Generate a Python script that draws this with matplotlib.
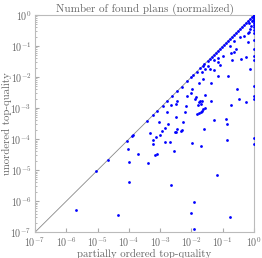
import numpy as np
import matplotlib
matplotlib.use("Agg")
import matplotlib.pyplot as plt

plt.rcParams["font.family"] = "serif"
plt.rcParams["font.serif"] = ["cmr10", "DejaVu Serif"]
plt.rcParams["mathtext.fontset"] = "cm"
plt.rcParams["axes.formatter.use_mathtext"] = True

title = "Number of found plans (normalized)"
xlabel = "partially ordered top-quality"
ylabel = "unordered top-quality"

# points on the diagonal (same value on both axes)
diag_vals = [9.1e-6, 2.1e-5, 8.4e-5, 1.3e-4, 1.4e-4,
             3.9e-4, 6.0e-4, 8.1e-4, 1.2e-3, 1.64e-3, 2.38e-3, 3.55e-3,
             4.9e-3, 7.4e-3, 1.0e-2, 1.16e-2, 1.48e-2, 1.89e-2, 2.3e-2,
             2.61e-2, 3.26e-2, 3.95e-2, 4.58e-2, 5.31e-2, 6.17e-2, 7.14e-2,
             8.28e-2, 9.6e-2, 0.111, 0.129, 0.15, 0.173, 0.201, 0.233, 0.27,
             0.313, 0.363, 0.421, 0.488, 0.566, 0.656, 0.76, 0.88, 0.977, 1.0]

# off-diagonal points
po_vals = [2.1e-6, 9.7e-5, 1.02e-4, 9.9e-5, 4.4e-5, 1.98e-4, 4.0e-4, 4.8e-4,
           5.7e-4, 6.0e-4, 7.3e-4, 6.8e-4, 8.1e-4, 9.8e-4, 1.13e-3, 1.38e-3,
           1.46e-3, 2.05e-3, 2.3e-3, 2.7e-3, 2.96e-3, 3.2e-3, 3.4e-3, 4.5e-3,
           4.9e-3, 1.04e-2, 9.96e-3, 1.18e-2, 1.18e-2, 2.03e-2, 2.5e-2, 6.5e-2,
           0.133, 0.174,
           0.627, 0.69, 0.488, 0.363, 0.233, 0.627, 0.166, 0.27, 0.233, 0.182,
           0.101, 0.068, 0.068, 0.053, 0.079, 0.0326, 0.0378, 0.0267, 0.0219,
           0.053, 0.192, 0.566, 0.383, 0.724, 0.15, 0.068, 0.023, 0.0416,
           0.018, 0.0104, 0.0095, 0.0267, 0.0127, 0.0074, 0.014, 0.0416,
           0.0189, 0.0034, 0.0067, 0.00228, 0.0061, 0.0017, 0.182, 0.284, 0.33,
           0.0267, 0.024, 0.0215, 0.0195, 0.0175, 0.0155,
           0.016, 0.018, 0.0195, 0.021,
           8.9e-4, 0.0055, 0.053, 0.129, 0.136, 0.00177, 0.0032, 0.0031, 0.54,
           0.8, 0.85, 0.75, 0.9, 0.7,
           1.0, 1.0, 1.0, 1.0, 1.0, 1.0, 1.0, 1.0, 1.0, 1.0, 1.0, 1.0, 1.0,
           1.0, 1.0, 1.0, 1.0, 1.0, 1.0, 1.0]
uo_vals = [5.1e-7, 4.8e-5, 1.77e-5, 4.2e-6, 3.7e-7, 3.4e-5, 1.64e-5, 1.57e-4,
           9.2e-5, 7.2e-5, 1.17e-4, 3.05e-5, 3.3e-5, 1.33e-4, 1.78e-4, 8.3e-5,
           2.27e-4, 8.3e-5, 3.2e-6, 4.1e-5, 1.66e-4, 1.66e-4, 2.07e-4, 1.78e-4,
           1.96e-4, 7.5e-5, 4.3e-7, 9.1e-7, 1.25e-7, 5.9e-5, 2.16e-4, 6.8e-6,
           9.2e-5, 3.2e-7,
           0.26, 0.286, 0.213, 0.194, 0.14, 0.13, 0.097, 0.08, 0.066, 0.0597,
           0.0465, 0.04, 0.03, 0.0365, 0.0247, 0.0223, 0.0175, 0.0175, 0.015,
           0.0166, 0.0365, 0.0445, 0.0384, 0.0184, 0.0112, 0.0107, 0.0084,
           0.0066, 0.0062, 0.0042, 0.0031, 0.0026, 0.0019, 0.00245, 0.0022,
           0.00166, 0.00166, 0.00175, 0.00117, 0.0013, 7.2e-4, 7.5e-4, 0.00124,
           0.0042, 0.002,
           1.01e-3, 9.0e-4, 8.2e-4, 7.5e-4, 6.8e-4, 6.4e-4,
           1.3e-3, 1.6e-3, 1.4e-3, 1.7e-3,
           3.46e-4, 3.6e-4, 4.0e-4, 4.4e-4, 3.1e-4, 3.0e-4, 5.1e-4, 1.4e-3,
           1.57e-3,
           0.45, 0.62, 0.35, 0.7, 0.55,
           0.95, 0.9, 0.85, 0.78, 0.7, 0.62, 0.55, 0.47, 0.4, 0.33, 0.27, 0.159,
           0.08, 0.046, 0.0365, 0.0051, 0.00245, 0.0019, 1.11e-4, 7.2e-5]

axis_min, axis_max = 1e-7, 1.0

fig = plt.figure(figsize=(2.62, 2.58), dpi=100)
ax = fig.add_axes([0.1336, 0.1, 0.836, 0.842])
gray = "#666666"
ax.plot([axis_min, axis_max], [axis_min, axis_max], color="#888888", lw=0.6, zorder=1)
ax.plot(diag_vals, diag_vals, "o", color="blue", ms=2.0, mew=0, zorder=3)
ax.plot(po_vals, uo_vals, "o", color="blue", ms=2.0, mew=0, zorder=3)
ax.set_xscale("log")
ax.set_yscale("log")
ax.set_xlim(axis_min, axis_max)
ax.set_ylim(axis_min, axis_max)
ax.set_xticks([10.0 ** k for k in range(-7, 1)])
ax.set_yticks([10.0 ** k for k in range(-7, 1)])
for s in ax.spines.values():
    s.set_color("#bbbbbb")
    s.set_linewidth(0.8)
ax.tick_params(which="both", direction="in", colors="#aaaaaa", labelcolor=gray,
               labelsize=7.2)
ax.tick_params(axis="x", pad=2.6)
ax.tick_params(axis="y", pad=2.5)
ax.tick_params(which="major", length=3)
ax.tick_params(which="minor", length=1.5)
ax.set_title(title, fontsize=8, color=gray, pad=2)
ax.set_xlabel(xlabel, fontsize=7.8, color=gray, labelpad=0)
ax.set_ylabel(ylabel, fontsize=7.8, color=gray, labelpad=-1.5)
fig.savefig("out.png", dpi=100)
